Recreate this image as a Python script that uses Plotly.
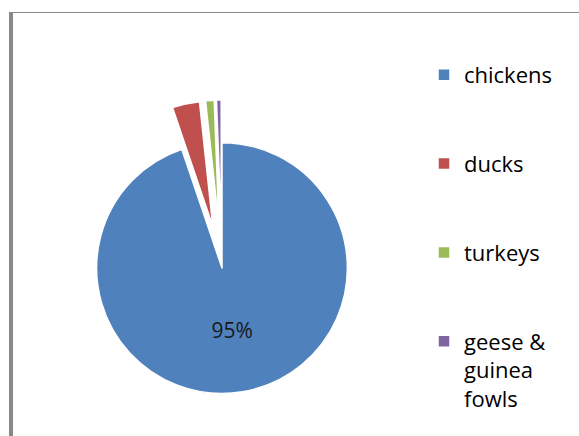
import plotly.graph_objects as go

W, H = 579, 436

labels = ["chickens", "ducks", "turkeys", "geese & guinea fowls"]
legend_text = ["chickens<br>\u00a0<br>\u00a0", "ducks<br>\u00a0<br>\u00a0", "turkeys<br>\u00a0<br>\u00a0", "geese &<br>guinea<br>fowls"]
values = [94.8, 3.5, 1.1, 0.6]
colors = ["#4F81BD", "#C0504D", "#9BBB59", "#8064A2"]
pulls = [0, 0.34, 0.34, 0.34]
text_pos = ["inside", "none", "none", "none"]

fig = go.Figure()
fig.add_trace(go.Pie(
    labels=legend_text,
    values=values,
    sort=False,
    direction="clockwise",
    rotation=0,
    pull=pulls,
    marker=dict(colors=colors, line=dict(color="white", width=1.5)),
    textinfo="percent",
    texttemplate="%{percent:.0%}",
    textposition=text_pos,
    insidetextorientation="horizontal",
    textfont=dict(family="Open Sans", size=21, color="#1a1a1a"),
    domain=dict(x=[54 / W, 390 / W], y=[0, 336 / H]),
    hoverinfo="label+percent",
))

fig.update_layout(
    width=W, height=H,
    margin=dict(l=0, r=0, t=0, b=0),
    paper_bgcolor="white",
    plot_bgcolor="white",
    showlegend=True,
    legend=dict(
        x=424 / W, xanchor="left",
        y=1 - 54 / H, yanchor="top",
        valign="top",
        font=dict(family="Open Sans", size=22, color="black"),
        bgcolor="rgba(0,0,0,0)",
        borderwidth=0,
    ),
    shapes=[
        dict(type="rect", xref="paper", yref="paper",
             x0=9 / W, x1=13 / W, y0=0, y1=1 - 12 / H,
             fillcolor="#888888", line=dict(width=0), layer="above"),
        dict(type="line", xref="paper", yref="paper",
             x0=9 / W, x1=1, y0=1 - 12.5 / H, y1=1 - 12.5 / H,
             line=dict(color="#888888", width=1), layer="above"),
    ],
)

fig.write_html("out.html")
